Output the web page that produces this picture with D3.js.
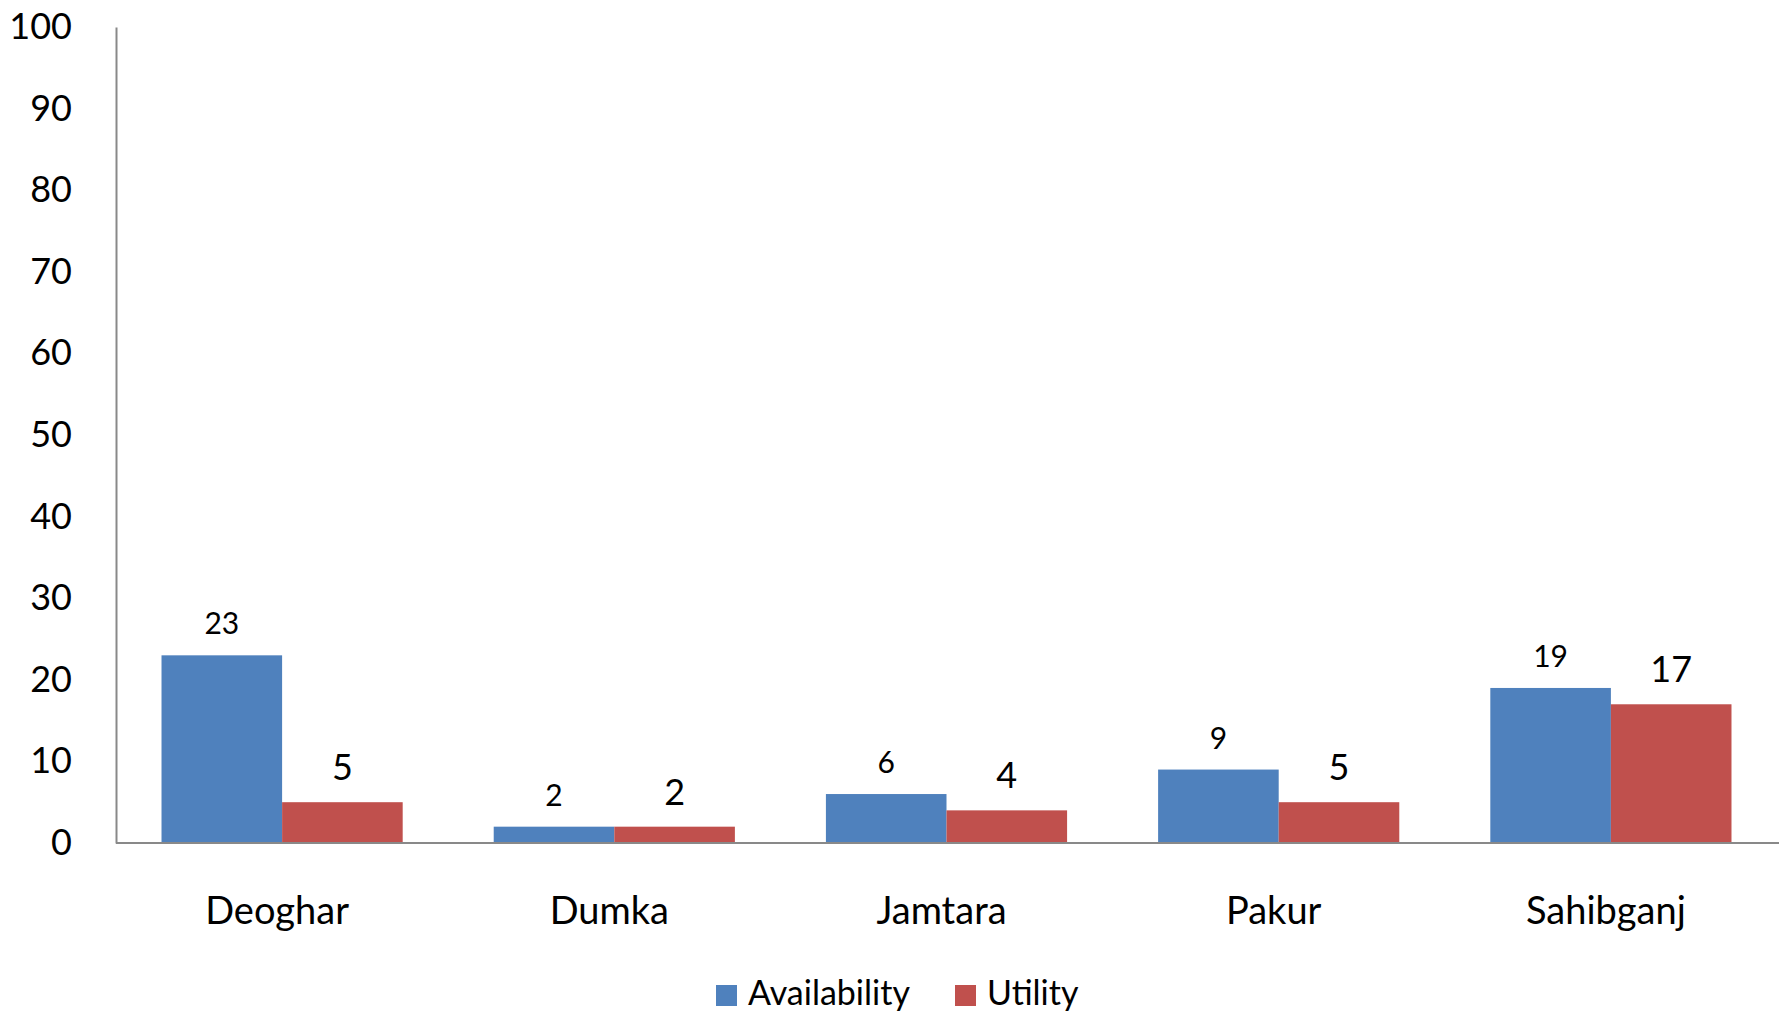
<!DOCTYPE html>
<html>
<head>
<meta charset="utf-8">
<script src="https://cdnjs.cloudflare.com/ajax/libs/d3/7.8.5/d3.min.js"></script>
<style>
  html, body { margin: 0; padding: 0; background: #fff; }
  svg { display: block; font-family: Lato, "Open Sans", sans-serif; }
</style>
</head>
<body>
<svg id="chart" width="1781" height="1011"></svg>
<script>
var districts = ["Deoghar", "Dumka", "Jamtara", "Pakur", "Sahibganj"];
var seriesNames = ["Availability", "Utility"];
var availability = [23, 2, 6, 9, 19];
var utility = [5, 2, 4, 5, 17];
var yTicks = [0, 10, 20, 30, 40, 50, 60, 70, 80, 90, 100];

var colors = {"Availability": "#4F81BD", "Utility": "#C0504D"};
var labelSize = {"Availability": 30, "Utility": 36};
var labelGap = {"Availability": 21, "Utility": 22};

var svg = d3.select("#chart");
var plotLeft = 116, plotRight = 1777, plotTop = 27, plotBottom = 843;

var x = d3.scaleBand().domain(districts).range([plotLeft, plotRight])
  .paddingInner(0.274).paddingOuter(0.137);
var xs = d3.scaleBand().domain(seriesNames).range([0, x.bandwidth()]);
var y = d3.scaleLinear().domain([0, 100]).range([plotBottom, plotTop]);

var rows = districts.map(function(d, i){
  return {district: d, values: [
    {name: "Availability", v: availability[i]},
    {name: "Utility", v: utility[i]}
  ]};
});

// y axis
var yAxis = svg.append("g")
  .attr("transform", "translate(" + plotLeft + ",0)")
  .call(d3.axisLeft(y).tickValues(yTicks).tickSize(0).tickSizeOuter(0).tickPadding(44));
yAxis.select(".domain").attr("stroke", "#898989").attr("stroke-width", 2);
yAxis.selectAll("text").attr("font-size", 36).attr("fill", "#000")
  .attr("font-family", "Lato, sans-serif");

// bars
var groups = svg.selectAll("g.grp").data(rows).enter().append("g")
  .attr("class", "grp")
  .attr("transform", function(d){ return "translate(" + x(d.district) + ",0)"; });

groups.selectAll("rect").data(function(d){ return d.values; }).enter().append("rect")
  .attr("x", function(d){ return xs(d.name); })
  .attr("y", function(d){ return y(d.v); })
  .attr("width", xs.bandwidth())
  .attr("height", function(d){ return y(0) - y(d.v); })
  .attr("fill", function(d){ return colors[d.name]; });

groups.selectAll("text.val").data(function(d){ return d.values; }).enter().append("text")
  .attr("class", "val")
  .attr("x", function(d){ return xs(d.name) + xs.bandwidth() / 2; })
  .attr("y", function(d){ return y(d.v) - labelGap[d.name]; })
  .attr("text-anchor", "middle")
  .attr("font-size", function(d){ return labelSize[d.name]; })
  .attr("fill", "#000")
  .text(function(d){ return d.v; });

// x axis
var xAxis = svg.append("g")
  .attr("transform", "translate(0," + plotBottom + ")")
  .call(d3.axisBottom(x).tickSize(0).tickSizeOuter(0).tickPadding(54));
xAxis.select(".domain").attr("d", "M" + plotLeft + ",0H1779").attr("stroke", "#898989").attr("stroke-width", 2);
xAxis.selectAll("text").attr("font-size", 38).attr("fill", "#000")
  .attr("dx", -5)
  .attr("font-family", "Lato, sans-serif");

// legend
var legend = svg.append("g");
var legX = [716, 955];
seriesNames.forEach(function(s, i){
  legend.append("rect").attr("x", legX[i]).attr("y", 985)
    .attr("width", 21).attr("height", 21).attr("fill", colors[s]);
  legend.append("text").attr("x", legX[i] + 32).attr("y", 1005)
    .attr("font-size", 34).attr("fill", "#000").text(s);
});
</script>
</body>
</html>
